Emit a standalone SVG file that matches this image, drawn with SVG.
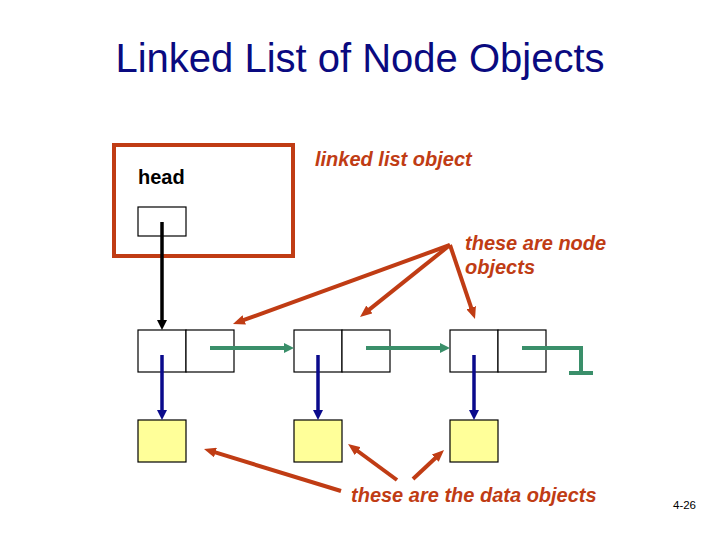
<svg xmlns="http://www.w3.org/2000/svg" width="720" height="540" viewBox="0 0 720 540">
<style>
.t{font-family:"Liberation Sans",Arial,sans-serif}
.title{font-size:40px;fill:#0a0a80}
.lbl{font-size:20px;font-weight:bold;font-style:italic;fill:#c03c14}
.cell{fill:#fff;stroke:#000;stroke-width:1.2}
.data{fill:#ffff99;stroke:#000;stroke-width:1.2}
.red{stroke:#c03c14;stroke-width:4;fill:none}
.blk{stroke:#000;stroke-width:3.5;fill:none}
.blu{stroke:#0a0a8c;stroke-width:3.5;fill:none}
.grn{stroke:#3a8f6a;stroke-width:4;fill:none}
</style>
<defs>
<marker id="mr" markerUnits="userSpaceOnUse" viewBox="0 0 12 10" refX="1" refY="5" markerWidth="12" markerHeight="10" orient="auto"><path d="M0,0 L12,5 L0,10 z" fill="#c03c14"/></marker>
<marker id="mk" markerUnits="userSpaceOnUse" viewBox="0 0 10 10" refX="1" refY="5" markerWidth="10" markerHeight="10" orient="auto"><path d="M0,0 L10,5 L0,10 z" fill="#000"/></marker>
<marker id="mb" markerUnits="userSpaceOnUse" viewBox="0 0 10 10" refX="1" refY="5" markerWidth="10" markerHeight="10" orient="auto"><path d="M0,0 L10,5 L0,10 z" fill="#0a0a8c"/></marker>
<marker id="mg" markerUnits="userSpaceOnUse" viewBox="0 0 10 10" refX="1" refY="5" markerWidth="10" markerHeight="10" orient="auto"><path d="M0,0 L10,5 L0,10 z" fill="#3a8f6a"/></marker>
</defs>
<rect width="720" height="540" fill="#fff"/>
<text class="t title" x="360" y="72" text-anchor="middle">Linked List of Node Objects</text>

<g id="linkedlist">
<rect x="114" y="145" width="179" height="111" fill="none" stroke="#c03c14" stroke-width="4"/>
<text class="t" x="138" y="184" font-size="20" font-weight="bold" fill="#000">head</text>
<rect class="cell" x="138" y="207" width="48" height="29"/>
</g>

<g id="node1"><rect class="cell" x="138" y="330" width="48" height="42"/><rect class="cell" x="186" y="330" width="48" height="42"/></g>
<g id="node2"><rect class="cell" x="294" y="330" width="48" height="42"/><rect class="cell" x="342" y="330" width="48" height="42"/></g>
<g id="node3"><rect class="cell" x="450" y="330" width="48" height="42"/><rect class="cell" x="498" y="330" width="48" height="42"/></g>

<g id="data1"><rect class="data" x="138" y="420" width="48" height="42"/></g>
<g id="data2"><rect class="data" x="294" y="420" width="48" height="42"/></g>
<g id="data3"><rect class="data" x="450" y="420" width="48" height="42"/></g>

<g id="labels">
<text class="t lbl" x="315" y="166">linked list object</text>
<text class="t lbl" x="465" y="250">these are node</text>
<text class="t lbl" x="465" y="274">objects</text>
<text class="t lbl" x="351" y="502">these are the data objects</text>
<text class="t" x="673" y="509" font-size="11.5" fill="#000">4-26</text>
</g>

<g id="connectors">
<line class="blk" x1="162" y1="222" x2="162" y2="321" marker-end="url(#mk)"/>
<line class="grn" x1="210" y1="348" x2="285" y2="348" marker-end="url(#mg)"/>
<line class="grn" x1="366" y1="348" x2="441" y2="348" marker-end="url(#mg)"/>
<polyline class="grn" points="522,348 581,348 581,373"/>
<line class="grn" x1="569" y1="373" x2="593" y2="373"/>
<line class="blu" x1="162" y1="355" x2="162" y2="411" marker-end="url(#mb)"/>
<line class="blu" x1="318" y1="355" x2="318" y2="411" marker-end="url(#mb)"/>
<line class="blu" x1="474" y1="355" x2="474" y2="411" marker-end="url(#mb)"/>
<line class="red" x1="450" y1="245" x2="243.3" y2="320.2" marker-end="url(#mr)"/>
<line class="red" x1="450" y1="245" x2="368.6" y2="310.1" marker-end="url(#mr)"/>
<line class="red" x1="450" y1="245" x2="471.5" y2="308.6" marker-end="url(#mr)"/>
<line class="red" x1="341" y1="491" x2="214.5" y2="452.2" marker-end="url(#mr)"/>
<line class="red" x1="397" y1="480" x2="356.9" y2="450.5" marker-end="url(#mr)"/>
<line class="red" x1="413" y1="479" x2="436" y2="457.5" marker-end="url(#mr)"/>
</g>
</svg>
